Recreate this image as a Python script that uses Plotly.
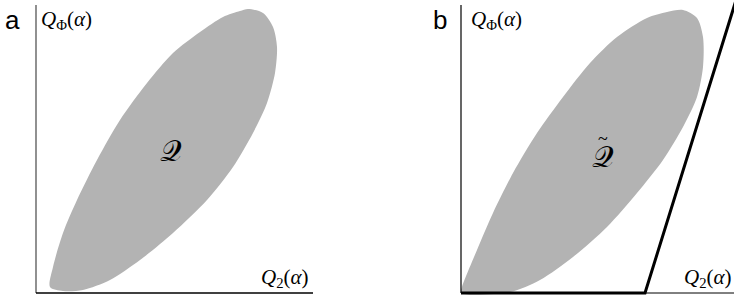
import plotly.graph_objects as go

# Region Q (panel a), in units measured from the panel's origin (x right, y up)
qa_x = [212, 227, 237, 241, 239, 231, 217, 197, 171, 137, 104, 74, 47, 27, 14, 17, 27, 41, 61, 84, 111, 137, 164, 187, 204]
qa_y = [284, 280, 266, 246, 220, 190, 160, 126, 93, 60, 33, 13, 3, 2, 6, 26, 60, 93, 133, 173, 210, 240, 261, 276, 282]

# Region Q-tilde (panel b)
qb_x = [222, 236, 242, 242, 236, 222, 202, 176, 146, 112, 79, 49, 0, 1, 16, 32, 52, 76, 102, 129, 156, 186, 206]
qb_y = [283, 275, 256, 226, 196, 166, 133, 100, 66, 36, 13, 1, 0, 6, 43, 80, 120, 160, 196, 230, 256, 275, 281]

# Thick boundary in panel b
bnd_x = [0, 184, 276]
bnd_y = [0, 0, 296]

# Axes extents
a_xlen, a_ylen = 277, 288
b_xlen, b_ylen = 280, 288

GRAY = "#b3b3b3"
SERIF = "Liberation Serif, DejaVu Serif, serif"
SANS = "Liberation Sans, Arial, sans-serif"

fig = go.Figure()

# Panel a
fig.add_trace(go.Scatter(x=qa_x + [qa_x[0]], y=qa_y + [qa_y[0]], mode="lines", line=dict(shape="spline", smoothing=0.8, width=0, color=GRAY),
                         fill="toself", fillcolor=GRAY, xaxis="x", yaxis="y", hoverinfo="skip"))
fig.add_trace(go.Scatter(x=[0, 0], y=[0, a_ylen], mode="lines", line=dict(color="#555555", width=1.3), xaxis="x", yaxis="y"))
fig.add_trace(go.Scatter(x=[0, a_xlen], y=[0, 0], mode="lines", line=dict(color="black", width=1.5), xaxis="x", yaxis="y"))

# Panel b
fig.add_trace(go.Scatter(x=qb_x + [qb_x[0]], y=qb_y + [qb_y[0]], mode="lines", line=dict(shape="spline", smoothing=0.8, width=0, color=GRAY),
                         fill="toself", fillcolor=GRAY, xaxis="x2", yaxis="y2", hoverinfo="skip"))
fig.add_trace(go.Scatter(x=[0, 0], y=[0, b_ylen], mode="lines", line=dict(color="black", width=1.2), xaxis="x2", yaxis="y2"))
fig.add_trace(go.Scatter(x=[0, b_xlen], y=[0, 0], mode="lines", line=dict(color="black", width=1), xaxis="x2", yaxis="y2"))
fig.add_trace(go.Scatter(x=bnd_x, y=bnd_y, mode="lines", line=dict(color="black", width=3), xaxis="x2", yaxis="y2"))

hidden = dict(visible=False, fixedrange=True)
fig.update_layout(
    width=734, height=296,
    margin=dict(l=0, r=0, t=0, b=0),
    paper_bgcolor="white", plot_bgcolor="rgba(0,0,0,0)",
    showlegend=False,
    xaxis=dict(domain=[0, 367 / 734], range=[-36, 331], **hidden),
    yaxis=dict(domain=[0, 1], range=[-3, 293], **hidden),
    xaxis2=dict(domain=[367 / 734, 1], range=[-94, 273], **hidden),
    yaxis2=dict(domain=[0, 1], range=[-3, 293], anchor="x2", **hidden),
)

ann = []
def label(text, x, y, xref, yref, size, family, xanchor="left", yanchor="middle"):
    ann.append(dict(text=text, x=x, y=y, xref=xref, yref=yref, showarrow=False,
                    font=dict(size=size, family=family, color="black"), xanchor=xanchor, yanchor=yanchor))

label("a", -33, 273, "x", "y", 26, SANS)
label("b", -30, 273, "x2", "y2", 26, SANS)
label("<i>Q</i><sub>Φ</sub>(<i>α</i>)", 3, 273, "x", "y", 21, SERIF)
label("<i>Q</i><sub>Φ</sub>(<i>α</i>)", 8, 273, "x2", "y2", 21, SERIF)
label("<i>Q</i><sub>2</sub>(<i>α</i>)", 223, 15, "x", "y", 21, SERIF)
label("<i>Q</i><sub>2</sub>(<i>α</i>)", 221, 15, "x2", "y2", 21, SERIF)
label("𝒬", 135, 143, "x", "y", 30, SERIF, xanchor="center")
label("𝒬", 142, 137, "x2", "y2", 30, SERIF, xanchor="center")
label("~", 142, 154, "x2", "y2", 18, SERIF, xanchor="center")
fig.update_layout(annotations=ann)

fig.write_html("out.html", post_script="document.body.style.margin='0';", config={"displayModeBar": False})
